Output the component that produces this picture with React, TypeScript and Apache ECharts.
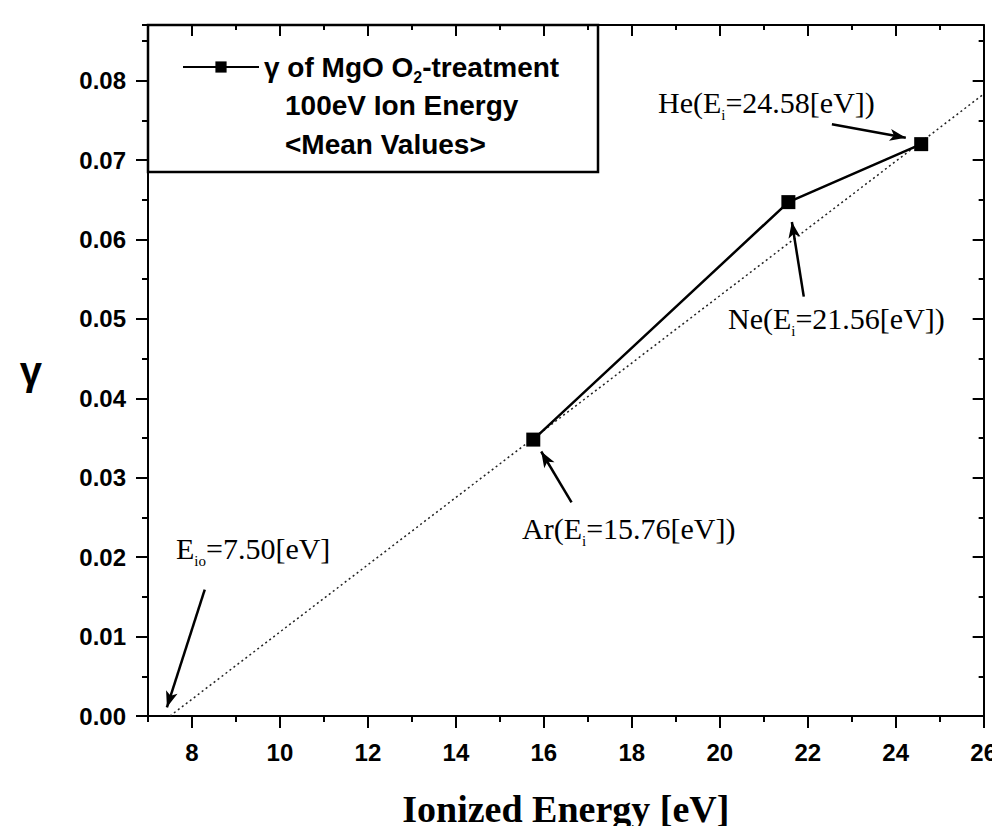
import React, { useEffect, useRef } from "react";
import * as echarts from "echarts";

// ---- data ----
const gasNames = ["Ar", "Ne", "He"];
const ionizedEnergies = [15.76, 21.56, 24.58];
const gammaValues = [0.0348, 0.0647, 0.072];
const fitStart = [7.5, 0];
const fitEnd = [26, 0.0783];
const xTickLabels = [8, 10, 12, 14, 16, 18, 20, 22, 24, 26];
const yTickLabels = ["0.00", "0.01", "0.02", "0.03", "0.04", "0.05", "0.06", "0.07", "0.08"];
const seriesName = "γ of MgO O2-treatment";
const legendLines = ["100eV Ion Energy", "<Mean Values>"];
// annotation arrows (data coordinates): start -> end
const arrowStarts = [[16.63, 0.0269], [21.91, 0.0528], [22.55, 0.0745], [8.29, 0.0159]];
const arrowEnds = [[15.94, 0.0333], [21.64, 0.0622], [24.23, 0.0728], [7.43, 0.0011]];
const annotationTexts = [
  "{b|Ar(E}{s|i}{b|=15.76[eV])}",
  "{b|Ne(E}{s|i}{b|=21.56[eV])}",
  "{b|He(E}{s|i}{b|=24.58[eV])}",
  "{b|E}{s|io}{b|=7.50[eV]}",
];
const annotationPos = [
  [522, 528],
  [728, 318],
  [658, 102],
  [176, 548],
];

const X_MIN = 7;
const X_MAX = 26;
const Y_MIN = 0;
const Y_MAX = 0.087;

const SANS = "'Liberation Sans', Arial, sans-serif";
const SERIF = "'Liberation Serif', 'Times New Roman', serif";

export default function App() {
  const ref = useRef<HTMLDivElement>(null);

  useEffect(() => {
    if (!ref.current) return;
    const chart = echarts.init(ref.current, undefined, { renderer: "svg" });

    const axisLineStyle = { color: "#000", width: 2 };
    const tickStyle = { color: "#000", width: 2 };
    const baseX = {
      type: "value",
      min: X_MIN,
      max: X_MAX,
      splitLine: { show: false },
    };
    const baseY = {
      type: "value",
      min: Y_MIN,
      max: Y_MAX,
      splitLine: { show: false },
    };

    const xAxes = [
      {
        ...baseX,
        position: "bottom",
        axisLine: { show: true, onZero: false, lineStyle: axisLineStyle },
        axisTick: { show: true, inside: false, length: 12, customValues: xTickLabels, lineStyle: tickStyle },
        axisLabel: {
          customValues: xTickLabels,
          color: "#000",
          fontSize: 24,
          fontWeight: "bold",
          fontFamily: SANS,
          margin: 24,
        },
        name: "Ionized Energy [eV]",
        nameLocation: "middle",
        nameGap: 74,
        nameTextStyle: { color: "#000", fontSize: 38, fontWeight: "bold", fontFamily: SERIF },
      },
      {
        ...baseX,
        position: "bottom",
        interval: 1,
        axisLine: { show: false, onZero: false },
        axisTick: { show: true, inside: false, length: 6, lineStyle: tickStyle },
        axisLabel: { show: false },
      },
      {
        ...baseX,
        position: "top",
        axisLine: { show: true, onZero: false, lineStyle: axisLineStyle },
        axisTick: { show: true, inside: true, length: 11, customValues: xTickLabels, lineStyle: tickStyle },
        axisLabel: { show: false },
      },
      {
        ...baseX,
        position: "top",
        interval: 1,
        axisLine: { show: false, onZero: false },
        axisTick: { show: true, inside: true, length: 5, lineStyle: tickStyle },
        axisLabel: { show: false },
      },
    ];

    const yAxes = [
      {
        ...baseY,
        position: "left",
        interval: 0.01,
        axisLine: { show: true, onZero: false, lineStyle: axisLineStyle },
        axisTick: { show: true, inside: false, length: 12, lineStyle: tickStyle },
        axisLabel: {
          color: "#000",
          fontSize: 24,
          fontWeight: "bold",
          fontFamily: SANS,
          margin: 22,
          showMaxLabel: false,
          formatter: (v: number) => {
            const i = Math.round(v / 0.01);
            return Math.abs(v - i * 0.01) < 1e-9 && yTickLabels[i] ? yTickLabels[i] : "";
          },
        },
        name: "γ",
        nameLocation: "middle",
        nameRotate: 0,
        nameGap: 106,
        nameTextStyle: { color: "#000", fontSize: 40, fontWeight: "bold", fontFamily: SANS, padding: [0, 0, 16, 0] },
      },
      {
        ...baseY,
        position: "left",
        interval: 0.005,
        axisLine: { show: false, onZero: false },
        axisTick: { show: true, inside: false, length: 6, lineStyle: tickStyle },
        axisLabel: { show: false },
      },
      {
        ...baseY,
        position: "right",
        interval: 0.01,
        axisLine: { show: true, onZero: false, lineStyle: axisLineStyle },
        axisTick: { show: true, inside: true, length: 11, lineStyle: tickStyle },
        axisLabel: { show: false },
      },
      {
        ...baseY,
        position: "right",
        interval: 0.005,
        axisLine: { show: false, onZero: false },
        axisTick: { show: true, inside: true, length: 5, lineStyle: tickStyle },
        axisLabel: { show: false },
      },
    ];

    const mainData = ionizedEnergies.map((x, i) => ({ name: gasNames[i], value: [x, gammaValues[i]] }));

    const arrowData = arrowStarts.map((s, i) => [
      { coord: s },
      { coord: arrowEnds[i] },
    ]);

    const subRich = {
      b: { fontSize: 30, fontFamily: SERIF, fill: "#000", color: "#000", lineHeight: 40 },
      s: { fontSize: 15, fontFamily: SERIF, fill: "#000", color: "#000", lineHeight: 40, verticalAlign: "bottom" },
    };

    const option = {
      animation: false,
      backgroundColor: "#fff",
      grid: { left: 148, right: 15, top: 25, bottom: 118, containLabel: false },
      xAxis: xAxes,
      yAxis: yAxes,
      legend: {
        show: true,
        left: 182,
        top: 49,
        padding: 0,
        itemWidth: 76,
        itemHeight: 14,
        data: [seriesName],
        formatter: () => "γ of MgO O{sub|2}-treatment",
        textStyle: {
          color: "#000",
          fontSize: 28,
          fontWeight: "bold",
          fontFamily: SANS,
          lineHeight: 36,
          rich: {
            sub: { fontSize: 16, fontWeight: "bold", fontFamily: SANS, color: "#000", lineHeight: 36, verticalAlign: "bottom" },
          },
        },
      },
      series: [
        {
          name: "fit",
          type: "line",
          xAxisIndex: 0,
          yAxisIndex: 0,
          data: [fitStart, fitEnd],
          showSymbol: false,
          symbol: "none",
          silent: true,
          lineStyle: { color: "#222", width: 1.5, type: [2, 3] },
          markLine: {
            silent: true,
            symbol: ["none", "arrow"],
            symbolSize: [9, 16],
            label: { show: false },
            lineStyle: { color: "#000", width: 2.5, type: "solid" },
            data: arrowData,
          },
          z: 1,
        },
        {
          name: seriesName,
          type: "line",
          xAxisIndex: 0,
          yAxisIndex: 0,
          data: mainData,
          symbol: "rect",
          symbolSize: 14,
          itemStyle: { color: "#000" },
          lineStyle: { color: "#000", width: 2.5 },
          z: 3,
        },
      ],
      graphic: [
        {
          type: "rect",
          shape: { x: 148, y: 25, width: 450, height: 147 },
          style: { fill: "none", stroke: "#000", lineWidth: 2.5 },
          silent: true,
          z: 10,
        },
        ...legendLines.map((t, i) => ({
          type: "text",
          x: 285,
          y: 105 + i * 39,
          style: {
            text: t,
            fontSize: 28,
            fontWeight: "bold",
            fontFamily: SANS,
            fill: "#000",
            verticalAlign: "middle",
            align: "left",
          },
          silent: true,
          z: 10,
        })),
        ...annotationTexts.map((t, i) => ({
          type: "text",
          x: annotationPos[i][0],
          y: annotationPos[i][1],
          style: {
            text: t,
            rich: subRich,
            fill: "#000",
            verticalAlign: "middle",
            align: "left",
          },
          silent: true,
          z: 10,
        })),
      ],
    };

    chart.setOption(option as any);
    return () => chart.dispose();
  }, []);

  return <div ref={ref} style={{ width: 1000, height: 834, margin: -8 }} />;
}
